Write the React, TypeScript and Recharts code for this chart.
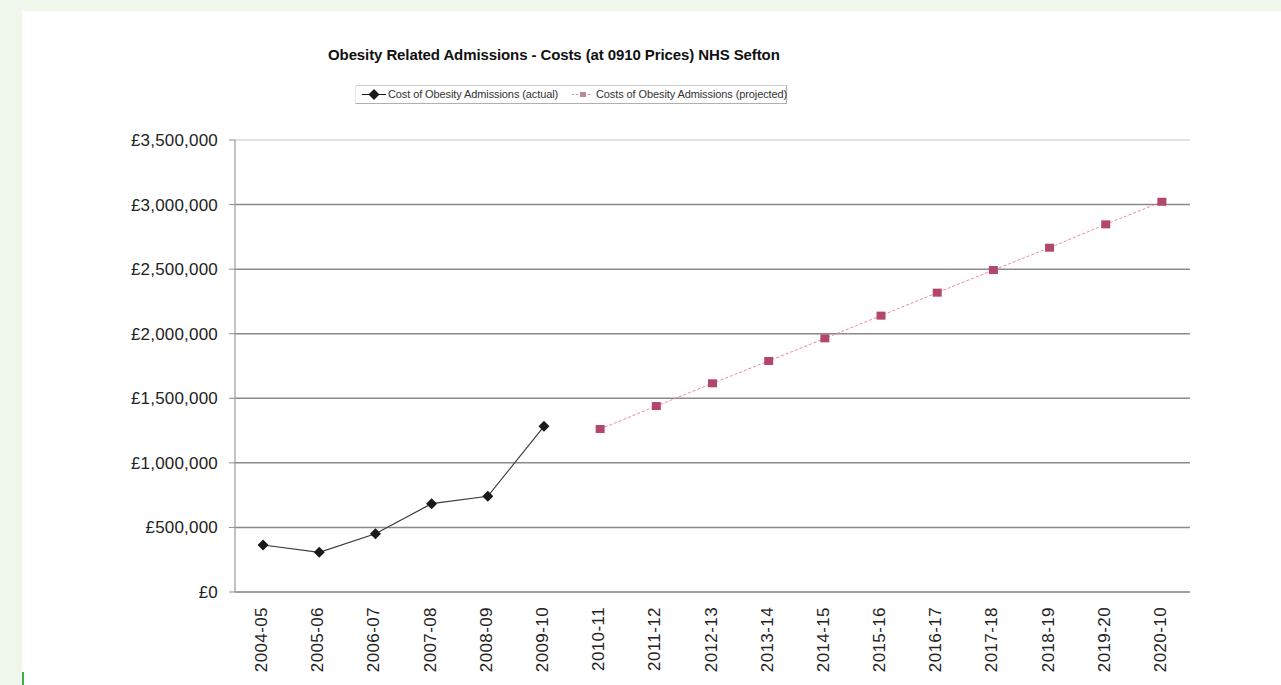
import { LineChart, Line, XAxis, YAxis, CartesianGrid, ReferenceLine } from "recharts";

const years = [
  "2004-05", "2005-06", "2006-07", "2007-08", "2008-09", "2009-10",
  "2010-11", "2011-12", "2012-13", "2013-14", "2014-15", "2015-16",
  "2016-17", "2017-18", "2018-19", "2019-20", "2020-10",
];

// actual costs, 2004-05 .. 2009-10
const actualCosts = [364000, 307000, 451000, 684000, 741000, 1283000];

// projected costs, 2010-11 .. 2020-10
const projectedCosts = [
  1262000, 1440000, 1616000, 1789000, 1964000, 2140000,
  2318000, 2493000, 2666000, 2847000, 3022000,
];

const yTicks = [0, 500000, 1000000, 1500000, 2000000, 2500000, 3000000, 3500000];

const seriesNames = [
  "Cost of Obesity Admissions (actual)",
  "Costs of Obesity Admissions (projected)",
];

const title = "Obesity Related Admissions - Costs (at 0910 Prices) NHS Sefton";

const chartData = years.map((year, i) => ({
  year,
  actual: i < actualCosts.length ? actualCosts[i] : null,
  projected: i >= actualCosts.length ? projectedCosts[i - actualCosts.length] : null,
}));

const FONT = "'Liberation Sans', Arial, sans-serif";
const ACTUAL_COLOR = "#1a1a1a";
const PROJ_LINE = "#e88a9e";
const PROJ_MARK = "#b3466b";

const fmtPounds = (v: number) => "£" + v.toLocaleString("en-US");

function Diamond(props: any) {
  const { cx, cy } = props;
  if (cx == null || cy == null) return null;
  return (
    <path
      d={`M${cx},${cy - 5.5} L${cx + 5.5},${cy} L${cx},${cy + 5.5} L${cx - 5.5},${cy} Z`}
      fill={ACTUAL_COLOR}
    />
  );
}

function Square(props: any) {
  const { cx, cy } = props;
  if (cx == null || cy == null) return null;
  return <rect x={cx - 4.5} y={cy - 4} width={9} height={8} fill={PROJ_MARK} />;
}

function YearTick(props: any) {
  const { x, y, payload } = props;
  const bx = x + 4;
  const by = y + 8;
  return (
    <text
      x={bx}
      y={by}
      transform={`rotate(-90, ${bx}, ${by})`}
      textAnchor="end"
      fill="#222"
      fontSize={17}
      letterSpacing={0.4}
      fontFamily={FONT}
    >
      {payload.value}
    </text>
  );
}

export default function App() {
  return (
    <div style={{ position: "fixed", left: 0, top: 0, width: 1281, height: 685, background: "#eff6ec", overflow: "hidden" }}>
      <div style={{ position: "absolute", left: 22, top: 11, right: 0, bottom: 0, background: "#ffffff" }} />
      <div style={{ position: "absolute", left: 22, top: 672, width: 2, height: 13, background: "#3cb04c" }} />

      <div
        style={{
          position: "absolute", left: 328, top: 46, whiteSpace: "nowrap",
          fontFamily: FONT, fontWeight: "bold", fontSize: 15, color: "#111", letterSpacing: -0.1,
        }}
      >
        {title}
      </div>

      {/* legend */}
      <div
        style={{
          position: "absolute", left: 355, top: 85, width: 430, height: 17,
          border: "1px solid #b0b0b0", borderTopColor: "#d0d0d0", borderLeftColor: "#e6e6e6", background: "#fff",
          fontFamily: FONT, fontSize: 11, color: "#333", whiteSpace: "nowrap",
        }}
      >
        <svg width={30} height={17} style={{ position: "absolute", left: 4, top: 0 }}>
          <line x1={2} y1={8.5} x2={26} y2={8.5} stroke={ACTUAL_COLOR} strokeWidth={1} />
          <Diamond cx={14} cy={8.5} />
        </svg>
        <span style={{ position: "absolute", left: 32, top: 2, letterSpacing: -0.1 }}>{seriesNames[0]}</span>
        <svg width={24} height={17} style={{ position: "absolute", left: 214, top: 0 }}>
          <line x1={2} y1={8.5} x2={22} y2={8.5} stroke={PROJ_LINE} strokeWidth={1} strokeDasharray="2 2" />
          <rect x={10} y={6} width={6} height={5} fill="#b98a9a" />
        </svg>
        <span style={{ position: "absolute", left: 240, top: 2, letterSpacing: -0.1 }}>{seriesNames[1]}</span>
      </div>

      <div style={{ position: "absolute", left: 0, top: 0 }}>
        <LineChart width={1281} height={685} data={chartData} margin={{ top: 140, right: 91, bottom: 0, left: 0 }}>
          <CartesianGrid vertical={false} stroke="#8a8a8a" strokeWidth={1.5} />
          <ReferenceLine y={3500000} stroke="#e2e2e2" strokeWidth={2} />
          <XAxis
            dataKey="year"
            scale="band"
            interval={0}
            height={93}
            tickSize={6}
            tickMargin={1}
            tickLine={false}
            axisLine={{ stroke: "#9a9a9a", strokeWidth: 1.2 }}
            tick={<YearTick />}
          />
          <YAxis
            width={235}
            domain={[0, 3500000]}
            ticks={yTicks}
            tickFormatter={fmtPounds}
            tickSize={6}
            tickMargin={11}
            tickLine={{ stroke: "#8f8f8f" }}
            axisLine={{ stroke: "#9a9a9a", strokeWidth: 1.2 }}
            tick={{ fill: "#222", fontSize: 17, fontFamily: FONT, letterSpacing: 0.2 }}
          />
          <Line
            dataKey="actual"
            stroke="#3a3a3a"
            strokeWidth={1.2}
            dot={<Diamond />}
            connectNulls={false}
            isAnimationActive={false}
          />
          <Line
            dataKey="projected"
            stroke={PROJ_LINE}
            strokeWidth={1}
            strokeDasharray="3 2"
            dot={<Square />}
            connectNulls={false}
            isAnimationActive={false}
          />
        </LineChart>
      </div>
    </div>
  );
}
